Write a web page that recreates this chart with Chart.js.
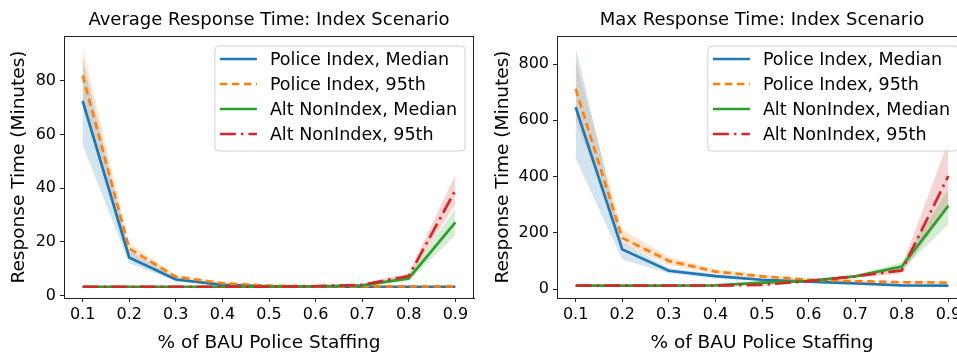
<!DOCTYPE html>
<html><head><meta charset="utf-8">
<script src="https://cdn.jsdelivr.net/npm/chart.js@4.4.1/dist/chart.umd.min.js"></script>
<style>
html,body{margin:0;padding:0;background:#fff;width:957px;height:352px;overflow:hidden;}
#wrap{position:relative;width:957px;height:352px;overflow:hidden;}
.c{position:absolute;top:0;}
</style></head><body>
<div id="wrap">
<div class="c" style="left:0;width:480px;height:354px"><canvas id="c1" width="480" height="354"></canvas></div>
<div class="c" style="left:484px;width:483px;height:354px"><canvas id="c2" width="483" height="354"></canvas></div>
</div>
<script>
// ---- categories / ticks ----
const staffing = [0.1, 0.2, 0.3, 0.4, 0.5, 0.6, 0.7, 0.8, 0.9];
const xTickValues = [0.1, 0.2, 0.3, 0.4, 0.5, 0.6, 0.7, 0.8, 0.9];
const avgYTicks = [0, 20, 40, 60, 80];
const maxYTicks = [0, 200, 400, 600, 800];
const seriesLabels = ["Police Index, Median", "Police Index, 95th", "Alt NonIndex, Median", "Alt NonIndex, 95th"];

// ---- Average response time (minutes) ----
const avgPoliceMedian    = [72.5, 14.2, 6.0, 4.0, 3.4, 3.3, 3.3, 3.3, 3.3];
const avgPoliceMedianLo  = [56.0, 12.0, 5.3, 3.6, 3.2, 3.1, 3.1, 3.1, 3.1];
const avgPoliceMedianHi  = [88.0, 16.5, 6.8, 4.4, 3.6, 3.5, 3.5, 3.5, 3.5];
const avgPolice95        = [82.0, 17.5, 7.0, 4.6, 3.7, 3.4, 3.4, 3.4, 3.4];
const avgPolice95Lo      = [72.0, 15.5, 6.3, 4.1, 3.4, 3.2, 3.2, 3.2, 3.2];
const avgPolice95Hi      = [92.5, 19.5, 7.8, 5.1, 4.0, 3.6, 3.6, 3.6, 3.6];
const avgAltMedian       = [3.3, 3.3, 3.3, 3.3, 3.3, 3.4, 3.8, 6.4, 27.3];
const avgAltMedianLo     = [3.1, 3.1, 3.1, 3.1, 3.1, 3.2, 3.5, 5.5, 22.5];
const avgAltMedianHi     = [3.5, 3.5, 3.5, 3.5, 3.5, 3.6, 4.1, 7.5, 32.5];
const avgAlt95           = [3.3, 3.3, 3.3, 3.3, 3.3, 3.5, 4.0, 7.3, 39.2];
const avgAlt95Lo         = [3.1, 3.1, 3.1, 3.1, 3.1, 3.3, 3.7, 6.4, 34.0];
const avgAlt95Hi         = [3.5, 3.5, 3.5, 3.5, 3.5, 3.7, 4.4, 8.4, 45.0];

// ---- Max response time (minutes) ----
const maxPoliceMedian    = [647, 141, 65, 46, 33, 26, 20, 13, 12];
const maxPoliceMedianLo  = [465, 105, 55, 38, 27, 22, 17, 11, 10];
const maxPoliceMedianHi  = [860, 165, 75, 53, 37, 30, 23, 15, 14];
const maxPolice95        = [712, 182, 100, 62, 45, 33, 28, 24, 23];
const maxPolice95Lo      = [600, 160, 85, 53, 38, 29, 25, 21, 20];
const maxPolice95Hi      = [812, 212, 115, 70, 52, 37, 32, 27, 26];
const maxAltMedian       = [12, 12, 12, 13, 23, 29, 45, 80, 296];
const maxAltMedianLo     = [10, 10, 10, 11, 19, 25, 40, 68, 230];
const maxAltMedianHi     = [14, 14, 14, 15, 28, 33, 50, 95, 355];
const maxAlt95           = [12, 12, 12, 12, 15, 28, 45, 66, 402];
const maxAlt95Lo         = [10, 10, 10, 10, 12, 24, 40, 55, 290];
const maxAlt95Hi         = [14, 14, 14, 14, 18, 32, 50, 80, 525];

const colors = ['#1f77b4', '#ff7f0e', '#2ca02c', '#d62728'];
const bandColors = ['rgba(31,119,180,0.2)', 'rgba(255,127,14,0.2)', 'rgba(44,160,44,0.2)', 'rgba(214,39,40,0.2)'];
const dashes = [[], [7.5, 4.5], [], [16, 5, 2.5, 5]];

Chart.defaults.font.family = "'DejaVu Sans', sans-serif";
Chart.defaults.color = '#000';

const pts = arr => staffing.map((x, i) => ({x: x, y: arr[i]}));

function buildDatasets(lines, los, his) {
  const ds = [];
  for (let k = 0; k < 4; k++) {
    ds.push({label: seriesLabels[k], data: pts(lines[k]), borderColor: colors[k], backgroundColor: colors[k],
      borderWidth: 2.7, borderDash: dashes[k], pointRadius: 0, fill: false, order: 4 - k, tension: 0});
  }
  for (let k = 0; k < 4; k++) {
    ds.push({label: '_lo' + k, data: pts(los[k]), borderColor: 'rgba(0,0,0,0)', borderWidth: 0, pointRadius: 0, fill: false, order: 10});
    ds.push({label: '_hi' + k, data: pts(his[k]), borderColor: 'rgba(0,0,0,0)', borderWidth: 0, pointRadius: 0,
      fill: '-1', backgroundColor: bandColors[k], order: 10});
  }
  return ds;
}

const legendPlugin = {
  id: 'innerLegend',
  afterDatasetsDraw(chart) {
    const ctx = chart.ctx, ca = chart.chartArea;
    const items = chart.data.datasets.filter(d => !d.label.startsWith('_'));
    ctx.save();
    ctx.font = "17.5px 'DejaVu Sans', sans-serif";
    let tw = 0;
    items.forEach(d => { tw = Math.max(tw, ctx.measureText(d.label).width); });
    const w = 55 + tw + 8, h = 105;
    const x0 = ca.right - 9 - w, y0 = ca.top + 10;
    ctx.beginPath();
    ctx.roundRect(x0, y0, w, h, 4);
    ctx.fillStyle = 'rgba(255,255,255,0.8)';
    ctx.fill();
    ctx.strokeStyle = '#d0d0d0';
    ctx.lineWidth = 1;
    ctx.stroke();
    items.forEach((d, i) => {
      const y = y0 + 13 + i * 25;
      ctx.beginPath();
      ctx.setLineDash(d.borderDash || []);
      ctx.strokeStyle = d.borderColor;
      ctx.lineWidth = d.borderWidth;
      ctx.moveTo(x0 + 5, y);
      ctx.lineTo(x0 + 42, y);
      ctx.stroke();
      ctx.setLineDash([]);
      ctx.fillStyle = '#000';
      ctx.textBaseline = 'middle';
      ctx.textAlign = 'left';
      ctx.fillText(d.label, x0 + 55, y + 1);
    });
    ctx.restore();
  }
};

const framePlugin = {
  id: 'frame',
  afterDatasetsDraw(chart) {
    const {ctx, chartArea: ca} = chart;
    ctx.save(); ctx.strokeStyle = '#222'; ctx.lineWidth = 1;
    ctx.beginPath();
    ctx.moveTo(ca.left, ca.top + 0.5); ctx.lineTo(ca.right, ca.top + 0.5);
    ctx.moveTo(ca.right - 0.5, ca.top); ctx.lineTo(ca.right - 0.5, ca.bottom);
    ctx.stroke(); ctx.restore();
  }
};

function makeChart(id, title, datasets, yMin, yMax, yTicks, yWidth, padRight) {
  return new Chart(document.getElementById(id), {
    type: 'line',
    data: {datasets: datasets},
    plugins: [framePlugin, legendPlugin],
    options: {
      responsive: false, animation: false, devicePixelRatio: 1,
      layout: {padding: {left: 0, right: padRight, top: 0, bottom: 0}},
      plugins: {
        legend: {display: false}, tooltip: {enabled: false},
        filler: {drawTime: 'beforeDatasetsDraw'},
        title: {display: true, text: title, fullSize: false, color: '#000',
          font: {size: 18, weight: 'normal'}, padding: {top: 9.8, bottom: 4.6}}
      },
      scales: {
        x: {type: 'linear', min: 0.06, max: 0.94,
          afterBuildTicks: s => { s.ticks = xTickValues.map(v => ({value: v})); },
          afterFit: s => { s.height = 56; },
          ticks: {callback: v => v.toFixed(1), font: {size: 16}, color: '#000', padding: 3, maxRotation: 0, autoSkip: false},
          grid: {drawOnChartArea: false, drawTicks: true, tickLength: 4, color: '#222'},
          border: {display: true, color: '#222', width: 1},
          title: {display: true, text: '% of BAU Police Staffing', color: '#000', font: {size: 18.5}, padding: {top: 0, bottom: 0}}
        },
        y: {type: 'linear', min: yMin, max: yMax,
          afterBuildTicks: s => { s.ticks = yTicks.map(v => ({value: v})); },
          afterFit: s => { s.width = yWidth; },
          ticks: {callback: v => String(v), font: {size: 16}, color: '#000', padding: 4},
          grid: {drawOnChartArea: false, drawTicks: true, tickLength: 4, color: '#222'},
          border: {display: true, color: '#222', width: 1},
          title: {display: true, text: 'Response Time (Minutes)', color: '#000', font: {size: 18.5}, padding: {top: 8, bottom: 0}}
        }
      }
    }
  });
}

makeChart('c1', 'Average Response Time: Index Scenario',
  buildDatasets([avgPoliceMedian, avgPolice95, avgAltMedian, avgAlt95],
                [avgPoliceMedianLo, avgPolice95Lo, avgAltMedianLo, avgAlt95Lo],
                [avgPoliceMedianHi, avgPolice95Hi, avgAltMedianHi, avgAlt95Hi]),
  -0.9, 96.7, avgYTicks, 64, 6);

makeChart('c2', 'Max Response Time: Index Scenario',
  buildDatasets([maxPoliceMedian, maxPolice95, maxAltMedian, maxAlt95],
                [maxPoliceMedianLo, maxPolice95Lo, maxAltMedianLo, maxAlt95Lo],
                [maxPoliceMedianHi, maxPolice95Hi, maxAltMedianHi, maxAlt95Hi]),
  -32, 900, maxYTicks, 73, 0);
</script>
</body></html>
